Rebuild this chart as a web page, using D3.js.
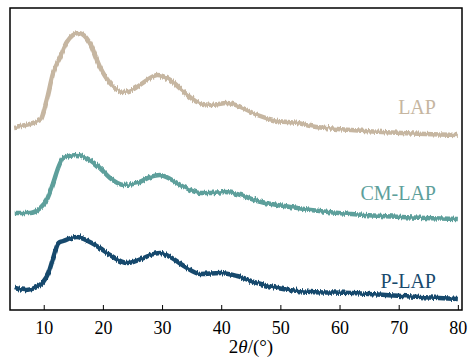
<!DOCTYPE html>
<html>
<head>
<meta charset="utf-8">
<script src="https://cdn.jsdelivr.net/npm/d3@7"></script>
<style>
  body { margin: 0; background: #fff; }
  svg { display: block; }
  .tick text { font-family: "Liberation Serif", "Times New Roman", serif; }
</style>
</head>
<body>
<svg id="chart"></svg>
<script>
// 2theta positions (deg) and stacked intensities (a.u., offsets included)
const lapTheta = [5, 9.4, 10.5, 11.6, 12.8, 13.9, 15.9, 17.8, 19.5, 21.2, 23.5, 25.2, 27.5, 29.2, 31.4, 33.7, 35.9, 38.2, 41.0, 43.3, 46.1, 49.5, 52.9, 55.1, 62.0, 70.5, 80];
const lapValues = [183, 190, 210, 237, 253, 268, 277, 267, 243, 227, 218, 221, 230, 235, 230, 218, 208, 205, 207, 203, 195, 189, 187, 184, 180, 177, 175];

const cmTheta = [5.1, 7.7, 9.4, 10.5, 11.6, 12.5, 13.3, 15.6, 17.8, 19.5, 21.2, 23.5, 25.8, 28.0, 29.6, 31.4, 33.7, 36.5, 38.2, 40.7, 43.3, 46.1, 49.5, 52.9, 55.1, 62.0, 70.5, 80];
const cmValues = [97, 97, 102, 110, 127, 143, 152, 155, 150, 142, 132, 125, 127, 133, 135, 131, 123, 117, 117, 118, 115, 109, 105, 102, 100, 96, 93, 91];

const pTheta = [5.1, 7.1, 8.8, 9.9, 10.8, 11.6, 12.5, 13.3, 15.6, 17.8, 19.5, 21.2, 24.1, 26.9, 28.0, 29.7, 31.4, 33.7, 36.5, 39.9, 42.7, 46.1, 49.5, 52.9, 55.1, 62.0, 70.5, 80];
const pValues = [22, 20, 23, 28, 37, 52, 67, 69, 73, 68, 62, 55, 47, 52, 55, 57, 53, 44, 36, 37, 34, 27, 22, 19, 18, 17, 14, 11];

const seriesNames = ["LAP", "CM-LAP", "P-LAP"];
const seriesColors = ["#c6b6a1", "#5d9f9b", "#184a6d"];
const xTicks = [10, 20, 30, 40, 50, 60, 70, 80];

const W = 469, H = 360;
const margin = { top: 8, right: 7, bottom: 50, left: 10 };
const innerW = W - margin.left - margin.right;
const innerH = H - margin.top - margin.bottom;

const svg = d3.select("#chart").attr("width", W).attr("height", H);

// vertical-only jitter so the traces look like raw diffractometer scans
const defs = svg.append("defs");
const noise = defs.append("filter").attr("id", "scan-noise")
  .attr("x", "-2%").attr("y", "-20%").attr("width", "104%").attr("height", "140%");
noise.append("feTurbulence").attr("type", "fractalNoise")
  .attr("baseFrequency", "1.6 0.03").attr("numOctaves", 2).attr("seed", 3).attr("result", "n");
const ct = noise.append("feComponentTransfer").attr("in", "n").attr("result", "nv");
ct.append("feFuncR").attr("type", "linear").attr("slope", 0).attr("intercept", 0.5);
noise.append("feDisplacementMap").attr("in", "SourceGraphic").attr("in2", "nv")
  .attr("scale", 5).attr("xChannelSelector", "R").attr("yChannelSelector", "G");

const g = svg.append("g").attr("transform", `translate(${margin.left},${margin.top})`);

const x = d3.scaleLinear().domain([4.3, 80.7]).range([0, innerW]);
const y = d3.scaleLinear().domain([0, 302]).range([innerH, 0]);

const line = d3.line()
  .x(d => x(d[0]))
  .y(d => y(d[1]))
  .curve(d3.curveMonotoneX);

const series = [
  { name: seriesNames[0], color: seriesColors[0], data: d3.zip(lapTheta, lapValues), label: 114 },
  { name: seriesNames[1], color: seriesColors[1], data: d3.zip(cmTheta, cmValues), label: 200 },
  { name: seriesNames[2], color: seriesColors[2], data: d3.zip(pTheta, pValues), label: 288 }
];

series.forEach(s => {
  g.append("path")
    .datum(s.data)
    .attr("fill", "none")
    .attr("stroke", s.color)
    .attr("stroke-width", 4.5)
    .attr("filter", "url(#scan-noise)")
    .attr("d", line);

  g.append("text")
    .attr("x", x(76.3))
    .attr("y", s.label - margin.top)
    .attr("text-anchor", "end")
    .attr("fill", s.color)
    .style("font-family", "'Liberation Serif', 'Times New Roman', serif")
    .style("font-size", "20px")
    .text(s.name);
});

// bottom axis, ticks pointing inward
const xAxis = g.append("g")
  .attr("transform", `translate(0,${innerH})`)
  .call(d3.axisBottom(x).tickValues(xTicks).tickSizeInner(-5).tickSizeOuter(0).tickPadding(11));
xAxis.select(".domain").remove();
xAxis.selectAll(".tick line").attr("stroke", "#000").attr("stroke-width", 1);
xAxis.selectAll(".tick text").attr("fill", "#000").style("font-size", "18px");

// frame
g.append("rect")
  .attr("width", innerW).attr("height", innerH)
  .attr("fill", "none").attr("stroke", "#000").attr("stroke-width", 1.5);

// x axis title
const title = svg.append("text")
  .attr("x", 251).attr("y", 353)
  .attr("text-anchor", "middle")
  .style("font-family", "'Liberation Serif', 'Times New Roman', serif")
  .style("font-size", "19px")
  .attr("fill", "#000");
title.append("tspan").text("2");
title.append("tspan").style("font-style", "italic").text("θ");
title.append("tspan").text("/(°)");
</script>
</body>
</html>
